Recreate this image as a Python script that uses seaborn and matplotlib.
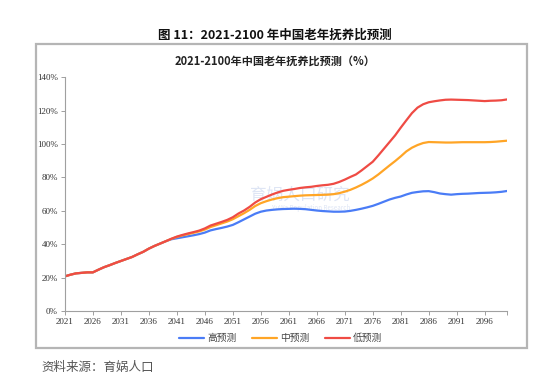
import numpy as np
import pandas as pd
import matplotlib
matplotlib.use("Agg")
import matplotlib.pyplot as plt
import seaborn as sns
from matplotlib.patches import Rectangle
from matplotlib.lines import Line2D

years = list(range(2021, 2101))

early = [20.8, 21.8, 22.6, 22.9, 23.2, 23.2, 24.8, 26.3, 27.5, 28.8,
         30.0, 31.2, 32.4, 34.0, 35.5, 37.4, 39.0, 40.4, 41.8]

# 2040-2100
high_late = [43.0, 43.6, 44.2, 44.8, 45.4, 46.1, 47.0, 48.3, 49.1, 49.8,
             50.6, 51.6, 53.2, 54.9, 56.6, 58.3, 59.5, 60.2, 60.6, 60.9,
             61.1, 61.2, 61.3, 61.2, 61.0, 60.6, 60.2, 59.9, 59.7, 59.5,
             59.5, 59.6, 60.0, 60.6, 61.3, 62.1, 63.0, 64.2, 65.5, 66.8,
             67.8, 68.6, 69.8, 70.8, 71.3, 71.7, 71.8, 71.2, 70.4, 70.0,
             69.7, 70.0, 70.2, 70.3, 70.5, 70.7, 70.8, 70.9, 71.1, 71.4,
             71.9]
mid_late = [43.2, 44.4, 45.3, 46.1, 46.9, 47.7, 48.8, 50.3, 51.4, 52.5,
            53.6, 55.0, 56.8, 58.6, 60.6, 62.9, 64.6, 65.8, 66.8, 67.6,
            68.2, 68.5, 68.8, 69.1, 69.3, 69.4, 69.5, 69.6, 69.7, 70.0,
            70.6, 71.5, 72.6, 74.0, 75.6, 77.4, 79.4, 81.8, 84.5, 87.2,
            89.8, 92.6, 95.6, 97.8, 99.4, 100.6, 101.2, 101.1, 101.0, 100.9,
            100.9, 101.0, 101.1, 101.1, 101.1, 101.1, 101.1, 101.2, 101.4, 101.7,
            102.0]
low_late = [43.3, 44.6, 45.6, 46.5, 47.3, 48.2, 49.5, 51.2, 52.3, 53.4,
            54.6, 56.2, 58.4, 60.2, 62.4, 65.0, 67.0, 68.4, 69.8, 71.0,
            72.0, 72.6, 73.1, 73.7, 74.1, 74.4, 74.9, 75.3, 75.6, 76.2,
            77.3, 78.7, 80.3, 81.8, 84.2, 86.8, 89.4, 93.2, 97.2, 101.2,
            105.2, 109.8, 114.2, 118.5, 121.8, 123.8, 125.0, 125.6, 126.1, 126.5,
            126.6, 126.5, 126.4, 126.3, 126.1, 125.9, 125.7, 125.9, 126.0, 126.2,
            126.7]

high = early + high_late
mid = early + mid_late
low = early + low_late

series_names = ["高预测", "中预测", "低预测"]
colors = ["#4a7cf6", "#ffa526", "#ef4b44"]

df = pd.concat([
    pd.DataFrame({"year": years, "value": v, "scenario": n})
    for n, v in zip(series_names, [high, mid, low])
])

sns.set_theme(style="white")
plt.rcParams['font.family'] = ['Noto Sans CJK SC', 'DejaVu Sans']

fig = plt.figure(figsize=(5.5, 3.86), dpi=100)
fig.patch.set_facecolor("white")

# chart frame
fig.patches.append(Rectangle((0.0655, 0.0984), 0.893, 0.7876, transform=fig.transFigure,
                             fill=False, edgecolor="#b5b5b5", linewidth=1.6, zorder=0))

ax = fig.add_axes([0.118, 0.194, 0.804, 0.606])
sns.lineplot(data=df, x="year", y="value", hue="scenario", hue_order=series_names,
             palette=colors, linewidth=1.6, legend=False, ax=ax)

ax.set_xlim(2021, 2100)
ax.set_ylim(0, 140)
ax.set_xticks(list(range(2021, 2101, 5)) + [2100])
ax.set_xticklabels([str(y) for y in range(2021, 2101, 5)] + [""])
ax.set_yticks(range(0, 141, 20))
ax.set_yticklabels([f"{t}%" for t in range(0, 141, 20)])
ax.set_xlabel("")
ax.set_ylabel("")
for s in ["top", "right"]:
    ax.spines[s].set_visible(False)
for s in ["left", "bottom"]:
    ax.spines[s].set_color("#a0a0a0")
    ax.spines[s].set_linewidth(0.8)
ax.tick_params(axis="both", length=3, width=0.7, color="#a0a0a0", direction="out",
               labelsize=6.5, labelcolor="#333333", pad=2)
ax.tick_params(axis="x", bottom=True)
ax.tick_params(axis="y", left=True)
for lab in ax.get_xticklabels() + ax.get_yticklabels():
    lab.set_family(["Liberation Serif", "DejaVu Serif"])

# watermark
ax.text(2063, 69.5, "育娲人口研究", fontsize=12, color="#c8d4ee", alpha=0.6,
        ha="center", va="center", zorder=0.5)
ax.text(2065, 61.5, "YuWa Population Research", fontsize=4.5, color="#c8d4ee",
        alpha=0.6, ha="center", va="center", zorder=0.5)

handles = [Line2D([0], [0], color=c, lw=1.6) for c in colors]
fig.legend(handles, series_names, loc="center", bbox_to_anchor=(0.51, 0.124), ncol=3,
           frameon=False, fontsize=7, handlelength=2.6, handletextpad=0.3,
           columnspacing=1.6, labelcolor="#444444")

fig.text(0.5, 0.909, "图 11：2021-2100 年中国老年抚养比预测", ha="center", va="center",
         fontsize=9, fontweight="bold", color="#111111")
fig.text(0.5, 0.842, "2021-2100年中国老年抚养比预测（%）", ha="center", va="center",
         fontsize=8, fontweight="bold", color="#222222")
fig.text(0.075, 0.047, "资料来源：育娲人口", ha="left", va="center", fontsize=9,
         style="italic", color="#555555")

fig.savefig("out.png", dpi=100, facecolor="white")
